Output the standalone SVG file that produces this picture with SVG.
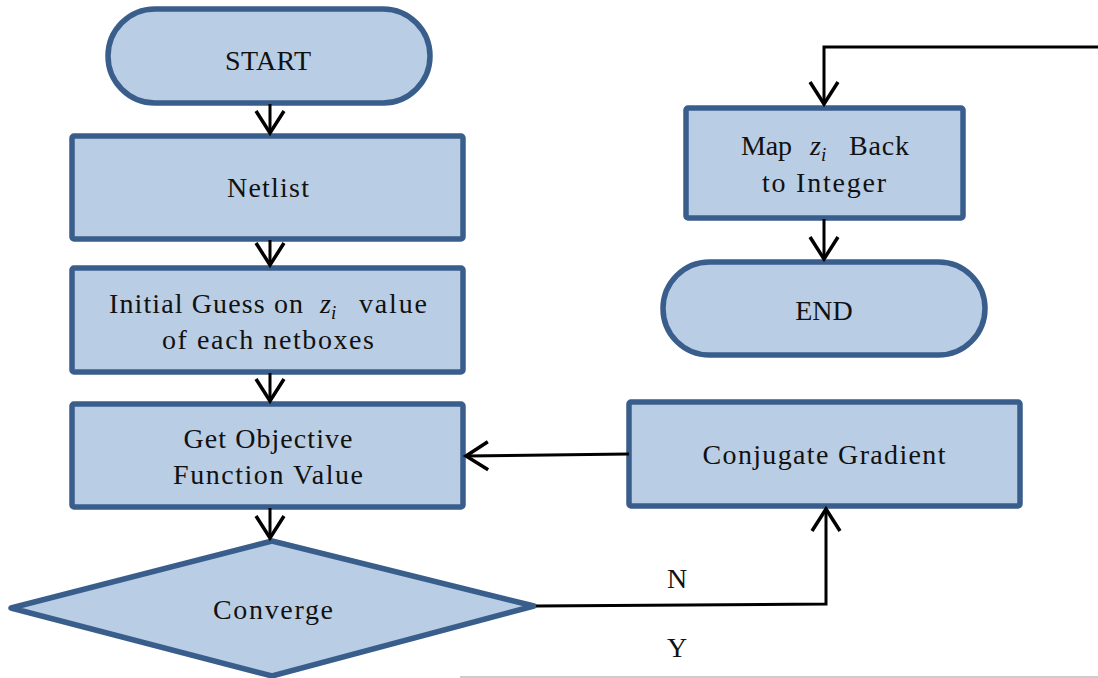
<svg xmlns="http://www.w3.org/2000/svg" width="1098" height="678" viewBox="0 0 1098 678">
<defs>
<style>
.n{fill:#B9CDE5;stroke:#3A5E8C;stroke-width:5.5;stroke-linejoin:round}
.t{font-family:"Liberation Serif","DejaVu Serif",serif;font-size:28px;fill:#111;text-anchor:middle}
.s{text-anchor:start}
.c{fill:none;stroke:#000;stroke-width:3}
.m{font-style:italic}
</style>
<marker id="ah" markerUnits="userSpaceOnUse" viewBox="-26 -18 30 36" markerWidth="30" markerHeight="36" refX="0" refY="0" orient="auto">
<path d="M-22,-14 L0,0 L-22,14" fill="none" stroke="#000" stroke-width="3.5"/>
</marker>
</defs>
<rect width="1098" height="678" fill="#fff"/>
<line x1="460" y1="677" x2="1098" y2="677" stroke="#bbb" stroke-width="1.5"/>
<g id="start"><rect class="n" x="108" y="9" width="322" height="94" rx="47"/><text class="t" x="268" y="70" textLength="86">START</text></g>
<g id="netlist"><rect class="n" x="72" y="136" width="391" height="103" rx="2"/><text class="t" x="268" y="197" textLength="82">Netlist</text></g>
<g id="initial"><rect class="n" x="72" y="268" width="391" height="104" rx="2"/>
<text class="t s" x="109" y="313" textLength="194">Initial Guess on</text>
<text class="t s m" x="320" y="313">z<tspan font-size="19" dy="6">i</tspan></text>
<text class="t s" x="359" y="313" textLength="68">value</text>
<text class="t" x="268" y="349" textLength="212">of each netboxes</text></g>
<g id="objective"><rect class="n" x="72" y="404" width="391" height="103" rx="2"/><text class="t" x="268" y="448" textLength="169">Get Objective</text><text class="t" x="268" y="484" textLength="190">Function Value</text></g>
<g id="converge"><polygon class="n" points="272,541 534,606 272,676 11,608"/><text class="t" x="273" y="619" textLength="120">Converge</text></g>
<g id="conjugate"><rect class="n" x="629" y="402" width="391" height="104" rx="2"/><text class="t" x="824" y="464" textLength="243">Conjugate Gradient</text></g>
<g id="map"><rect class="n" x="686" y="108" width="277" height="110" rx="2"/>
<text class="t s" x="741" y="155" textLength="51">Map</text>
<text class="t s m" x="810" y="155">z<tspan font-size="19" dy="6">i</tspan></text>
<text class="t s" x="849" y="155" textLength="60">Back</text>
<text class="t" x="824" y="192" textLength="124">to Integer</text></g>
<g id="end"><rect class="n" x="663" y="262" width="322" height="93" rx="46.5"/><text class="t" x="824" y="320">END</text></g>
<g id="connectors">
<line class="c" x1="270" y1="104" x2="270" y2="133" marker-end="url(#ah)"/>
<line class="c" x1="270" y1="240" x2="270" y2="265" marker-end="url(#ah)"/>
<line class="c" x1="270" y1="373" x2="270" y2="401" marker-end="url(#ah)"/>
<line class="c" x1="270" y1="508" x2="270" y2="538" marker-end="url(#ah)"/>
<polyline class="c" points="629,454 466,456" marker-end="url(#ah)"/>
<polyline class="c" points="536,606 826,604 826,509" marker-end="url(#ah)"/>
<polyline class="c" points="1098,47 824,47 824,104" marker-end="url(#ah)"/>
<line class="c" x1="824" y1="219" x2="824" y2="259" marker-end="url(#ah)"/>
<text class="t" x="677" y="588" font-size="25">N</text>
<text class="t" x="677" y="657" font-size="25">Y</text>
</g>
</svg>
